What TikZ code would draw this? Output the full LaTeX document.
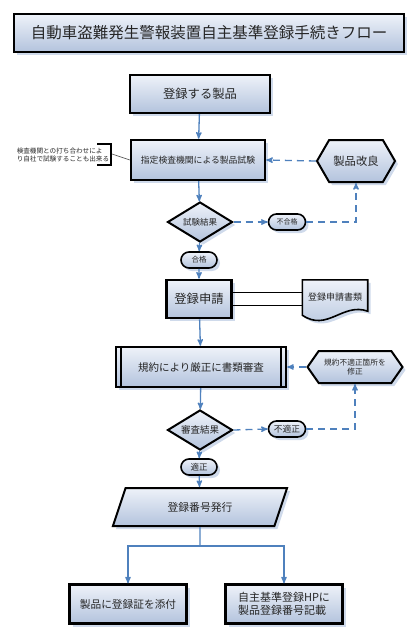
\documentclass[tikz,border=0pt]{standalone}
\usepackage{fontspec}
\setmainfont{Noto Sans CJK JP}
\usepackage{xcolor}
\usetikzlibrary{arrows, positioning, shapes.geometric, shapes.misc, shapes.symbols, shadows}
\definecolor{flowblue}{HTML}{4F81BD}
\definecolor{boxtop}{HTML}{EEF2F9}
\definecolor{boxbot}{HTML}{B3C3DD}
\definecolor{shadowblue}{HTML}{CAD6E9}

\begin{document}
\begin{tikzpicture}[x=1pt, y=-1pt,
			>=stealth',
			flow/.style={->, flowblue, line width=1.3pt},
			back/.style={flow, dash pattern=on 7pt off 5pt},
			boxfill/.style={top color=boxtop, bottom color=boxbot, draw=black, line width=2pt, text=black!85,
				drop shadow={shadow xshift=3pt, shadow yshift=-3pt, fill=shadowblue, opacity=0.9}},
			process/.style={boxfill, rectangle, line width=2.4pt},
			decision/.style={boxfill, diamond, aspect=1.6, inner sep=0pt, minimum width=65pt, minimum height=40pt},
			terminal/.style={boxfill, rounded rectangle, line width=1.6pt, inner sep=1pt, minimum width=39pt, minimum height=16pt},
			hexa/.style={boxfill, signal, signal to=west and east, align=center}]

	\useasboundingbox (0,0) rectangle (420,640);

	% title
	\node[boxfill, minimum width=390pt, minimum height=38pt, font=\fontsize{15.5}{18}\selectfont] (title) at (209,33) {自動車盗難発生警報装置自主基準登録手続きフロー};

	% main column
	\node[process, minimum width=140pt, minimum height=38pt, font=\fontsize{12.3}{14}\selectfont] (product) at (200,94) {登録する製品};
	\node[process, minimum width=134pt, minimum height=40pt, font=\fontsize{8.8}{10}\selectfont] (test) at (198,160) {指定検査機関による製品試験};
	\node[decision, font=\fontsize{8.5}{10}\selectfont] (result1) at (200,222) {試験結果};
	\node[terminal, minimum width=38pt, font=\fontsize{7.5}{9}\selectfont] (pass1) at (199,260) {合格};
	\node[process, line width=2.6pt, minimum width=65pt, minimum height=38pt, font=\fontsize{12.3}{14}\selectfont] (apply) at (199,299) {登録申請};
	\node[process, minimum width=170pt, minimum height=40pt, font=\fontsize{10.5}{12}\selectfont] (review) at (201,367) {規約により厳正に書類審査};
	\draw[line width=1.5pt] ([xshift=6pt]review.north west) -- ([xshift=6pt]review.south west);
	\draw[line width=1.5pt] ([xshift=-6pt]review.north east) -- ([xshift=-6pt]review.south east);
	\node[decision, font=\fontsize{9.5}{11}\selectfont] (result2) at (200,430) {審査結果};
	\node[terminal, minimum width=38pt, font=\fontsize{8.5}{10}\selectfont] (pass2) at (199,467) {適正};
	\node[boxfill, trapezium, trapezium left angle=70, trapezium right angle=110, trapezium stretches=true,
		minimum width=175pt, minimum height=38pt, font=\fontsize{10.8}{12}\selectfont] (issue) at (200,507) {登録番号発行};
	\node[process, minimum width=117pt, minimum height=39pt, font=\fontsize{10.7}{12}\selectfont] (attach) at (128,604) {製品に登録証を添付};
	\node[process, minimum width=117pt, minimum height=39pt, align=left, font=\fontsize{11}{13}\selectfont] (web) at (284,604) {自主基準登録HPに\\製品登録番号記載};

	% side branches
	\node[hexa, minimum width=78pt, minimum height=42pt, signal pointer angle=120, font=\fontsize{11.3}{13}\selectfont] (improve) at (356,161) {製品改良};
	\node[terminal, font=\fontsize{7}{9}\selectfont] (fail1) at (287,222) {不合格};
	\node[hexa, minimum width=95pt, minimum height=32pt, signal pointer angle=110, font=\fontsize{7.7}{9.5}\selectfont] (fix) at (355,367) {規約不適正箇所を\\修正};
	\node[terminal, font=\fontsize{8.7}{10}\selectfont] (fail2) at (287,429) {不適正};

	% document
	\node[minimum width=65pt, minimum height=40pt] (doc) at (335,300) {};
	\path[top color=boxtop, bottom color=boxbot, draw=black, line width=1.6pt,
		drop shadow={shadow xshift=3pt, shadow yshift=-3pt, fill=shadowblue, opacity=0.9}]
		(doc.north west) -- (doc.north east) -- ([yshift=9pt]doc.south east)
		.. controls ([xshift=-25pt,yshift=18pt]doc.south east) and ([xshift=25pt,yshift=-12pt]doc.south west) .. ([yshift=5pt]doc.south west) -- cycle;
	\node[text=black!85, font=\fontsize{9}{11}\selectfont] (doctext) at ([yshift=3pt]doc.center) {登録申請書類};
	\draw[line width=1.5pt] ([yshift=6.5pt]apply.east) -- ([yshift=6.5pt]apply.east -| doc.west);
	\draw[line width=1.5pt] ([yshift=-6.5pt]apply.east) -- ([yshift=-6.5pt]apply.east -| doc.west);

	% note
	\node[text=black!85, align=left, inner sep=0pt, font=\fontsize{6.6}{8.5}\selectfont] (note) at (63,155) {検査機関との打ち合わせによ\\り自社で試験することも出来る};
	\draw[line width=2pt] (97,144) -- (111,144) -- (111,165) -- (97,165);
	\coordinate (brace) at (112,154);
	\draw[black!70, line width=0.6pt] (brace) -- (test.west);

	% connectors
	\draw[flow] (product) -- (test);
	\draw[flow] (test) -- (result1);
	\draw[flow] (result1) -- (pass1);
	\draw[flow] (pass1) -- (apply);
	\draw[flow] (apply) -- (review);
	\draw[flow] (review) -- (result2);
	\draw[flow] (result2) -- (pass2);
	\draw[flow] (pass2) -- (issue);
	\coordinate (split) at (200,546);
	\draw[flowblue, line width=1.3pt] (issue.south) -- (split);
	\draw[flow] (split) -| (attach.north);
	\draw[flow] (split) -| (web.north);

	\draw[back] (result1.east) -- (fail1.west);
	\draw[back] (fail1.east) -| (improve.south);
	\draw[back] (improve.west) -- (test.east);
	\draw[back] (result2.east) -- (fail2.west);
	\draw[back] (fail2.east) -| (fix.south);
	\draw[back] (fix.west) -- (review.east);
\end{tikzpicture}
\end{document}
